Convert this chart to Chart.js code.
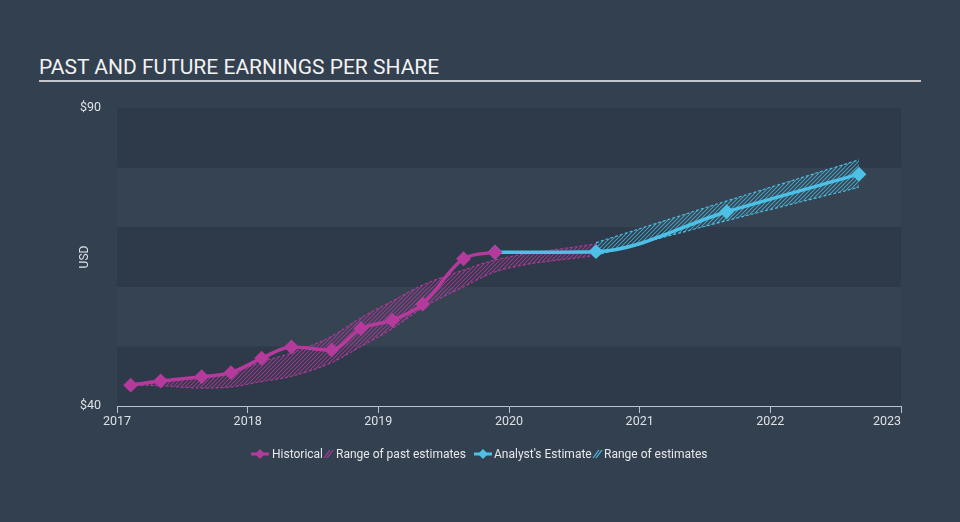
<!DOCTYPE html>
<html>
<head>
<meta charset="utf-8">
<script src="https://cdn.jsdelivr.net/npm/chart.js@4/dist/chart.umd.min.js"></script>
<style>
  html, body { margin: 0; padding: 0; }
  body { width: 960px; height: 522px; background: #334050; position: relative; overflow: hidden; font-family: Roboto, "Open Sans", sans-serif; }
  #title { position: absolute; left: 39px; top: 55px; font-size: 21px; color: #f2f2f2; white-space: nowrap; }
  #rule { position: absolute; left: 39px; top: 80px; width: 882px; height: 2px; background: #c3c7cd; }
  #wrap { position: absolute; left: 0; top: 0; width: 960px; height: 522px; }
  #legend { position: absolute; top: 446px; left: 0; width: 960px; height: 16px; font-size: 12px; color: #e6e8ea; }
  #legend span { position: absolute; top: 0; line-height: 16px; white-space: nowrap; }
  #legend svg { position: absolute; top: 2px; }
</style>
</head>
<body>
<div id="title">PAST AND FUTURE EARNINGS PER SHARE</div>
<div id="rule"></div>
<div id="wrap"><canvas id="c" width="960" height="522"></canvas></div>
<div id="legend">
  <svg style="left:251px" width="18" height="12" viewBox="0 0 18 12"><line x1="0" y1="6" x2="18" y2="6" stroke="#b43a9c" stroke-width="3"/><polygon points="9,1 14,6 9,11 4,6" fill="#b43a9c"/></svg>
  <span style="left:272px">Historical</span>
  <svg style="left:323px" width="11" height="12" viewBox="0 0 11 12"><line x1="1" y1="10" x2="7" y2="2" stroke="#b43a9c" stroke-width="1.2"/><line x1="4" y1="10" x2="10" y2="2" stroke="#b43a9c" stroke-width="1.2"/></svg>
  <span style="left:336px">Range of past estimates</span>
  <svg style="left:474px" width="18" height="12" viewBox="0 0 18 12"><line x1="0" y1="6" x2="18" y2="6" stroke="#4dc0e6" stroke-width="3"/><polygon points="9,1 14,6 9,11 4,6" fill="#4dc0e6"/></svg>
  <span style="left:494px">Analyst's Estimate</span>
  <svg style="left:592px" width="11" height="12" viewBox="0 0 11 12"><line x1="1" y1="10" x2="7" y2="2" stroke="#4dc0e6" stroke-width="1.2"/><line x1="4" y1="10" x2="10" y2="2" stroke="#4dc0e6" stroke-width="1.2"/></svg>
  <span style="left:604px">Range of estimates</span>
</div>
<script>
// ---- data (years as decimal, EPS in USD) ----
const histDates = [2017.105, 2017.334, 2017.648, 2017.872, 2018.107, 2018.335, 2018.643, 2018.867, 2019.107, 2019.340, 2019.652, 2019.893];
const histEps   = [43.5, 44.2, 44.9, 45.6, 48.0, 49.9, 49.4, 53.0, 54.4, 57.1, 64.7, 65.8];

const pastRangeDates = [2017.105, 2017.334, 2017.648, 2017.872, 2018.107, 2018.335, 2018.643, 2018.867, 2019.107, 2019.340, 2019.652, 2019.893, 2020.666];
const pastLow  = [43.5, 43.4, 43.0, 43.2, 44.1, 45.0, 47.3, 50.0, 53.0, 56.5, 60.0, 62.5, 65.3];
const pastHigh = [43.7, 44.2, 44.7, 45.5, 47.4, 48.9, 51.7, 54.8, 57.6, 60.3, 62.8, 64.5, 67.2];

const estDates = [2019.893, 2020.666, 2021.666, 2022.678];
const estEps   = [65.8, 65.9, 72.6, 78.9];

const rangeDates = [2020.666, 2021.666, 2022.678];
const rangeLow   = [65.3, 71.1, 76.7];
const rangeHigh  = [67.4, 74.4, 81.3];

const yearTicks = [2017, 2018, 2019, 2020, 2021, 2022, 2023];
const yTicks = [40, 90];
const bandEdges = [40, 50, 60, 70, 80, 90];

// ---- styling ----
const PINK = '#b43a9c';
const CYAN = '#4dc0e6';
const zip = (xs, ys) => xs.map((x, i) => ({ x: x, y: ys[i] }));

function hatch(color) {
  const s = 4;
  const c = document.createElement('canvas');
  c.width = s; c.height = s;
  const g = c.getContext('2d');
  g.strokeStyle = color; g.lineWidth = 1.1;
  g.beginPath();
  g.moveTo(0, s); g.lineTo(s, 0);
  g.moveTo(-1, 1); g.lineTo(1, -1);
  g.moveTo(s - 1, s + 1); g.lineTo(s + 1, s - 1);
  g.stroke();
  return g.createPattern(c, 'repeat');
}

const bandsPlugin = {
  id: 'bands',
  beforeDraw(chart) {
    const { ctx, chartArea, scales } = chart;
    const y = scales.y;
    ctx.save();
    for (let i = 0; i < bandEdges.length - 1; i++) {
      const top = y.getPixelForValue(bandEdges[i + 1]);
      const bot = y.getPixelForValue(bandEdges[i]);
      ctx.fillStyle = (i % 2 === 0) ? '#2e3a4a' : '#364352';
      ctx.fillRect(chartArea.left, top, chartArea.right - chartArea.left, bot - top);
    }
    ctx.restore();
  }
};

const lineCommon = {
  borderWidth: 3.5,
  pointStyle: 'rectRot',
  pointRadius: 5,
  pointHoverRadius: 5,
  cubicInterpolationMode: 'monotone',
  fill: false
};
const bandCommon = {
  borderWidth: 1.2,
  borderDash: [3, 2],
  pointRadius: 0,
  cubicInterpolationMode: 'monotone'
};

new Chart(document.getElementById('c'), {
  type: 'line',
  data: {
    datasets: [
      Object.assign({ label: 'Historical', data: zip(histDates, histEps), borderColor: PINK, backgroundColor: PINK, pointBackgroundColor: PINK, pointBorderColor: PINK }, lineCommon),
      Object.assign({ label: "Analyst's Estimate", data: zip(estDates, estEps), borderColor: CYAN, backgroundColor: CYAN, pointBackgroundColor: CYAN, pointBorderColor: CYAN }, lineCommon),
      Object.assign({ label: 'past low', data: zip(pastRangeDates, pastLow), borderColor: 'rgba(180,58,156,0.9)', fill: false }, bandCommon),
      Object.assign({ label: 'Range of past estimates', data: zip(pastRangeDates, pastHigh), borderColor: 'rgba(180,58,156,0.9)', fill: { target: 2 }, backgroundColor: hatch('rgba(180,58,156,0.8)') }, bandCommon),
      Object.assign({ label: 'est low', data: zip(rangeDates, rangeLow), borderColor: 'rgba(77,192,230,0.95)', fill: false }, bandCommon),
      Object.assign({ label: 'Range of estimates', data: zip(rangeDates, rangeHigh), borderColor: 'rgba(77,192,230,0.95)', fill: { target: 4 }, backgroundColor: hatch('rgba(77,192,230,0.75)') }, bandCommon)
    ]
  },
  options: {
    responsive: false,
    animation: false,
    events: [],
    layout: { padding: { left: 0, right: 59, top: 108, bottom: 86 } },
    plugins: { legend: { display: false }, tooltip: { enabled: false }, title: { display: false } },
    scales: {
      x: {
        type: 'linear',
        min: 2017, max: 2023,
        afterBuildTicks(scale) { scale.ticks = yearTicks.map(v => ({ value: v })); },
        afterFit(scale) { scale.height = 30; },
        grid: { display: true, drawOnChartArea: false, drawTicks: true, tickLength: 7, color: '#b9c3cf', lineWidth: 1 },
        border: { display: true, color: '#b9c3cf', width: 1 },
        ticks: {
          color: '#dde0e4', font: { family: 'Roboto', size: 12.5 }, padding: 1, maxRotation: 0, autoSkip: false,
          callback: v => v === yearTicks[yearTicks.length - 1] ? String(v) + '         ' : String(v)
        }
      },
      y: {
        type: 'linear',
        min: 40, max: 90,
        afterBuildTicks(scale) { scale.ticks = yTicks.map(v => ({ value: v })); },
        afterFit(scale) { scale.width = 117; },
        grid: { display: false, drawTicks: false },
        border: { display: false },
        ticks: { color: '#dde0e4', font: { family: 'Roboto', size: 12.5 }, padding: 16, callback: v => '$' + v },
        title: { display: true, text: 'USD', color: '#dde0e4', font: { family: 'Roboto', size: 12 }, padding: { top: 78, bottom: 0 } }
      }
    }
  },
  plugins: [bandsPlugin]
});
</script>
</body>
</html>
